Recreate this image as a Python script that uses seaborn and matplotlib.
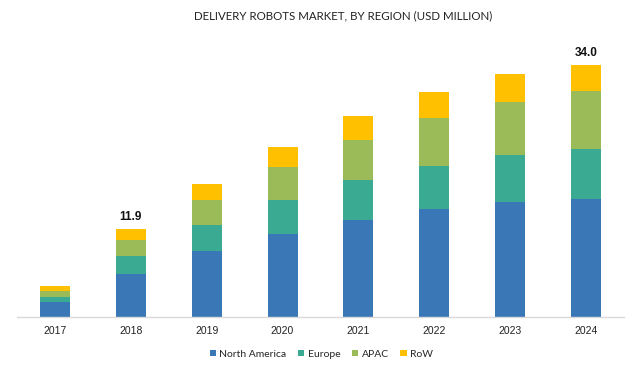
import numpy as np
import pandas as pd
import seaborn as sns
import matplotlib.pyplot as plt

years = ['2017', '2018', '2019', '2020', '2021', '2022', '2023', '2024']
north_america = [2.05, 5.90, 8.92, 11.25, 13.14, 14.58, 15.53, 16.01]
europe        = [0.75, 2.43, 3.58, 4.54, 5.35, 5.88, 6.37, 6.74]
apac          = [0.81, 2.12, 3.37, 4.53, 5.47, 6.47, 7.18, 7.82]
row           = [0.59, 1.45, 2.16, 2.70, 3.19, 3.46, 3.69, 3.43]
labels = {'2018': '11.9', '2024': '34.0'}

regions = ['North America', 'Europe', 'APAC', 'RoW']
colors = ['#3A77B7', '#3AAA92', '#9BBB59', '#FFC000']

df = pd.DataFrame({'Year': years, 'North America': north_america,
                   'Europe': europe, 'APAC': apac, 'RoW': row})
cum = df[regions].cumsum(axis=1)
cum['Year'] = df['Year']

sns.set_style('white')
plt.rcParams['font.family'] = ['Lato', 'DejaVu Sans']

fig = plt.figure(figsize=(6.39, 3.69), dpi=100)
ax = fig.add_axes([0.0266, 0.1396, 0.9499, 0.752])

# draw cumulative totals from the top segment down so they stack
for reg, col in reversed(list(zip(regions, colors))):
    sns.barplot(data=cum, x='Year', y=reg, color=col, width=0.395,
                saturation=1, ax=ax, label=reg, linewidth=0)

totals = df[regions].sum(axis=1)
for i, y in enumerate(years):
    if y in labels:
        ax.text(i, totals[i] + 0.8, labels[y], ha='center', va='bottom',
                fontsize=8.5, fontweight='bold', family='Liberation Sans',
                color='#111111')

ax.set_ylim(0, 37.4)
ax.set_xlim(-0.5, 7.5)
ax.set_xlabel(''); ax.set_ylabel('')
ax.set_yticks([])
for s in ['top', 'left', 'right']:
    ax.spines[s].set_visible(False)
ax.spines['bottom'].set_color('#D9D9D9')
ax.spines['bottom'].set_linewidth(1)
ax.tick_params(axis='x', length=0, labelsize=7.5, colors='#222222', pad=6)
for t in ax.get_xticklabels():
    t.set_family('Liberation Sans')

handles, lbls = ax.get_legend_handles_labels()
if ax.get_legend() is not None:
    ax.get_legend().remove()
order = [lbls.index(r) for r in regions]
fig.legend([handles[k] for k in order], regions, loc='center',
           bbox_to_anchor=(0.503, 0.04), ncol=4, frameon=False, fontsize=7.5,
           handlelength=0.6, handleheight=0.6, handletextpad=0.35,
           columnspacing=1.1)

fig.text(0.537, 0.957, 'DELIVERY ROBOTS MARKET, BY REGION (USD MILLION)',
         ha='center', va='center', fontsize=8.3, color='#222222')

fig.savefig('out.png', dpi=100)
